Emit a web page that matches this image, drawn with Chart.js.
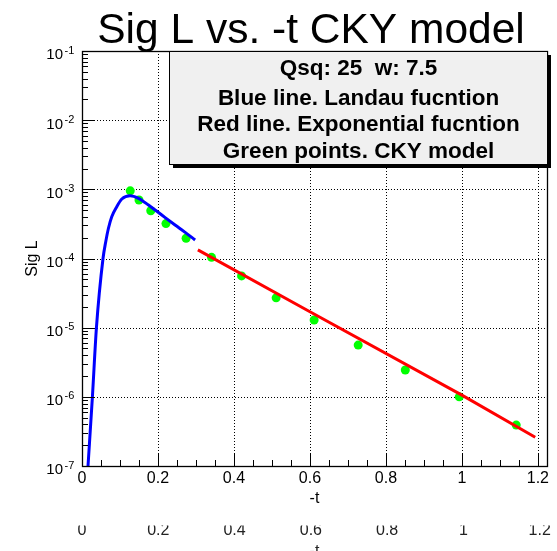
<!DOCTYPE html>
<html>
<head>
<meta charset="utf-8">
<script src="https://cdn.jsdelivr.net/npm/chart.js@4"></script>
<style>
  html, body { margin: 0; padding: 0; background: #fff; }
</style>
</head>
<body>
<canvas id="grafico" width="557" height="551"></canvas>
<script>
// CKY model points (green)
var ckyT = [0.127, 0.150, 0.181, 0.221, 0.274, 0.341, 0.420, 0.511, 0.611, 0.727, 0.851, 0.993, 1.143];
var ckySigL = [9.5e-4, 7.0e-4, 4.9e-4, 3.2e-4, 1.96e-4, 1.04e-4, 5.6e-5, 2.7e-5, 1.29e-5, 5.6e-6, 2.44e-6, 1.0e-6, 3.9e-7];

// Landau fit (blue)
var landauT = [0.0158, 0.0274, 0.038, 0.0553, 0.0625, 0.0696, 0.0783, 0.0915, 0.1048, 0.1265, 0.1487, 0.175, 0.210, 0.245, 0.2715, 0.2977];
var landauSigL = [1e-7, 1e-6, 1e-5, 1.0e-4, 1.75e-4, 2.74e-4, 4.02e-4, 5.61e-4, 7.24e-4, 8.09e-4, 7.41e-4, 5.93e-4, 4.25e-4, 3.05e-4, 2.39e-4, 1.85e-4];

// Exponential fit (red)
var expoT = [0.305, 0.6, 1.0, 1.193];
var expoSigL = [1.33e-4, 1.7e-5, 1.06e-6, 2.6e-7];

var xTickValues = [0, 0.2, 0.4, 0.6, 0.8, 1.0, 1.2];
var xTickLabels = ['0', '0.2', '0.4', '0.6', '0.8', '1', '1.2'];
var yDecades = [-1, -2, -3, -4, -5, -6, -7];
var legendLines = ['Qsq: 25  w: 7.5', 'Blue line. Landau fucntion', 'Red line. Exponential fucntion', 'Green points. CKY model'];

var FONT = '"Liberation Sans", Arial, Helvetica, sans-serif';

function toPoints(xs, ys) {
    return xs.map(function (x, i) { return { x: x, y: ys[i] }; });
}

var rootStyle = {
    id: 'rootStyle',
    beforeDatasetsDraw: function (chart) {
        var c = chart.ctx, a = chart.chartArea, xs = chart.scales.x, ys = chart.scales.y;
        c.save();
        c.strokeStyle = '#000';
        c.lineWidth = 1;
        c.setLineDash([1, 2]);
        xTickValues.forEach(function (v) {
            if (v === 0) return;
            var px = Math.round(xs.getPixelForValue(v)) + 0.5;
            c.beginPath(); c.moveTo(px, a.top); c.lineTo(px, a.bottom); c.stroke();
        });
        yDecades.forEach(function (d) {
            var py = Math.round(ys.getPixelForValue(Math.pow(10, d))) + 0.5;
            c.beginPath(); c.moveTo(a.left, py); c.lineTo(a.right, py); c.stroke();
        });
        c.restore();
    },
    afterDatasetsDraw: function (chart) {
        var c = chart.ctx, a = chart.chartArea, xs = chart.scales.x, ys = chart.scales.y;
        c.save();
        c.strokeStyle = '#000';
        c.fillStyle = '#000';
        c.lineWidth = 1;

        // frame
        c.lineWidth = 1.3;
        c.strokeRect(Math.round(a.left) + 0.5, Math.round(a.top) + 0.5,
            Math.round(a.right - a.left), Math.round(a.bottom - a.top));
        c.lineWidth = 1;

        // y ticks
        c.beginPath();
        yDecades.forEach(function (d) {
            var py = Math.round(ys.getPixelForValue(Math.pow(10, d))) + 0.5;
            c.moveTo(a.left, py); c.lineTo(a.left + 12, py);
            if (d <= -2) {
                for (var m = 2; m <= 9; m++) {
                    var pm = Math.round(ys.getPixelForValue(m * Math.pow(10, d))) + 0.5;
                    c.moveTo(a.left, pm); c.lineTo(a.left + 6, pm);
                }
            }
        });
        // x ticks
        for (var i = 1; i * 0.05 <= xs.max; i++) {
            var px = Math.round(xs.getPixelForValue(i * 0.05)) + 0.5;
            var len = (i % 4 === 0) ? 12 : 6;
            c.moveTo(px, a.bottom); c.lineTo(px, a.bottom - len);
        }
        c.stroke();

        // y labels 10^n
        yDecades.forEach(function (d) {
            var py = ys.getPixelForValue(Math.pow(10, d));
            c.font = '15px ' + FONT;
            c.textAlign = 'right';
            c.fillText('10', a.left - 19, py + 8.4);
            c.font = '11px ' + FONT;
            c.textAlign = 'left';
            c.fillText('-' + (-d), a.left - 17.5, py + 2.6);
        });

        // x labels
        c.font = '16px ' + FONT;
        c.textAlign = 'center';
        xTickValues.forEach(function (v, k) {
            c.fillText(xTickLabels[k], xs.getPixelForValue(v), a.bottom + 16.7);
        });
        c.fillText('-t', (a.left + a.right) / 2, a.bottom + 37.3);

        // y title
        c.save();
        c.translate(31.7, (a.top + a.bottom) / 2);
        c.rotate(-Math.PI / 2);
        c.fillText('Sig L', 0, 5.7);
        c.restore();

        // leftover axis row at the bottom
        c.save();
        c.beginPath();
        c.rect(0, 525.5, chart.width, chart.height - 525.5);
        c.clip();
        c.fillStyle = '#222';
        xTickValues.forEach(function (v, k) {
            var px = a.left + (xs.getPixelForValue(v) - a.left) * 1.004;
            c.fillText(xTickLabels[k], px, 535.3);
        });
        c.fillText('-t', (a.left + a.right) / 2, 555.5);
        c.restore();

        // title
        c.font = '42.5px ' + FONT;
        c.textAlign = 'center';
        c.fillText('Sig L vs. -t CKY model', 311, 43);

        // text box with shadow
        var bx = 169.5, by = Math.round(a.top) + 0.5, bw = Math.round(a.right) - 169, bh = 113;
        c.fillRect(bx + 3.5, by + 3.5, bw, bh);
        c.fillStyle = '#f0f0f0';
        c.fillRect(bx, by, bw, bh);
        c.strokeRect(bx, by, bw, bh);
        c.fillStyle = '#000';
        c.font = 'bold 22.5px ' + FONT;
        var centers = [66.7, 96.7, 123.3, 149.5];
        legendLines.forEach(function (t, k) {
            c.fillText(t, bx + bw / 2, centers[k] + 8);
        });
        c.restore();
    }
};

var ctx = document.querySelector('#grafico').getContext('2d');
var chart = new Chart(ctx, {
    type: 'scatter',
    data: {
        datasets: [{
            label: 'Landau',
            data: toPoints(landauT, landauSigL),
            showLine: true,
            borderColor: '#0000ff',
            borderWidth: 3,
            pointRadius: 0,
            cubicInterpolationMode: 'monotone',
            order: 1
        }, {
            label: 'Exponential',
            data: toPoints(expoT, expoSigL),
            showLine: true,
            borderColor: '#ff0000',
            borderWidth: 3,
            pointRadius: 0,
            order: 1
        }, {
            label: 'CKY',
            data: toPoints(ckyT, ckySigL),
            showLine: false,
            pointStyle: 'circle',
            pointRadius: 4.5,
            pointBorderWidth: 0,
            backgroundColor: '#00ff00',
            borderColor: '#00ff00',
            order: 2
        }]
    },
    options: {
        responsive: false,
        animation: false,
        layout: { padding: { top: 51, right: 10, left: 0, bottom: 0 } },
        plugins: {
            legend: { display: false },
            tooltip: { enabled: false }
        },
        scales: {
            x: {
                type: 'linear',
                min: 0,
                max: 1.224,
                ticks: { display: false },
                grid: { display: false },
                border: { display: false },
                afterFit: function (s) { s.height = 85; }
            },
            y: {
                type: 'logarithmic',
                min: 1e-7,
                max: 1e-1,
                ticks: { display: false },
                grid: { display: false },
                border: { display: false },
                afterFit: function (s) { s.width = 82; }
            }
        }
    },
    plugins: [rootStyle]
});
</script>
</body>
</html>
